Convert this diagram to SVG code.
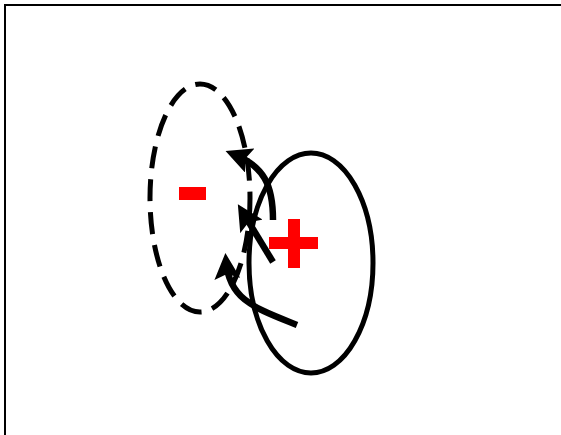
<svg xmlns="http://www.w3.org/2000/svg" width="561" height="435" viewBox="0 0 561 435">
<style>
.ell{fill:none;stroke:#000;stroke-width:5}
.dash{stroke-dasharray:22 11}
.arr{fill:none;stroke:#000;stroke-width:6.5;marker-end:url(#ah)}
.sign{fill:#f00}
</style>
<defs>
<marker id="ah" markerUnits="userSpaceOnUse" viewBox="0 0 26 26" markerWidth="26" markerHeight="26" refX="18" refY="13" orient="auto">
<path d="M0,0 L26,13 L0,26 L5,13 Z" fill="#000"/>
</marker>
</defs>
<rect x="5" y="5" width="620" height="500" fill="#fff" stroke="#000" stroke-width="2"/>
<g id="negative">
<ellipse class="ell dash" cx="200" cy="198" rx="50" ry="114"/>
<rect class="sign" x="179" y="187" width="27" height="13"/>
</g>
<g id="positive">
<ellipse class="ell" cx="311" cy="263" rx="62" ry="110"/>
<rect class="sign" x="269" y="237" width="49" height="12"/>
<rect class="sign" x="288" y="219" width="12" height="49"/>
</g>
<g id="connectors">
<path class="arr" d="M273,220 C273,185 264,166 233,154"/>
<path class="arr" d="M273,262 L242,211"/>
<path class="arr" d="M297,325 C255,308 229,300 226,261"/>
</g>
</svg>
